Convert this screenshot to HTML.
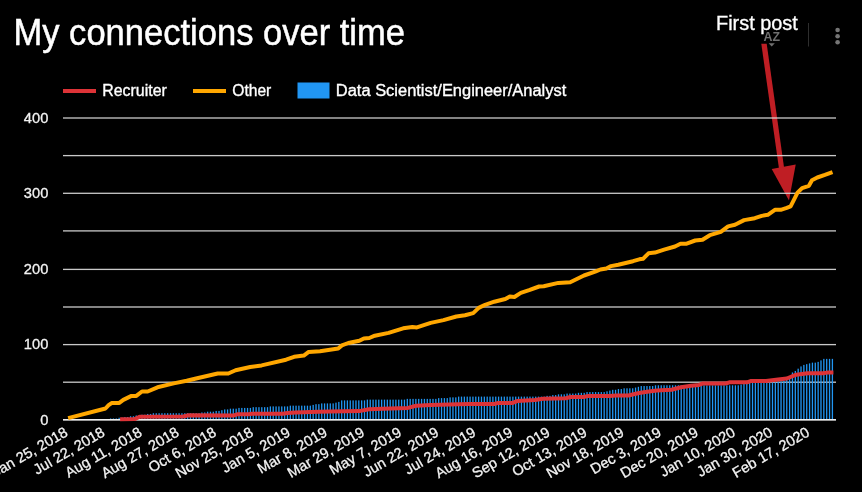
<!DOCTYPE html>
<html><head><meta charset="utf-8"><style>
html,body{margin:0;padding:0;background:#000;width:862px;height:492px;overflow:hidden}
svg{display:block;font-family:"Liberation Sans",sans-serif;will-change:transform}
</style></head><body>
<svg width="862" height="492" viewBox="0 0 862 492">
<text x="13.5" y="44.8" fill="#fff" stroke="#fff" stroke-width="0.5" font-size="36.3" textLength="391.5" lengthAdjust="spacingAndGlyphs">My connections over time</text>
<g font-size="16" fill="#fff" stroke-width="0.35">
<rect x="63" y="89" width="33" height="4" fill="#dd3337"/>
<text x="102.3" y="95.6" textLength="64.5" lengthAdjust="spacingAndGlyphs" stroke="#fff">Recruiter</text>
<rect x="193" y="89" width="33" height="4" fill="#ffa700"/>
<text x="232.3" y="95.6" textLength="39" lengthAdjust="spacingAndGlyphs" stroke="#fff">Other</text>
<rect x="297.5" y="82.5" width="32" height="16" fill="#2196f3"/>
<text x="335.8" y="95.6" textLength="230.5" lengthAdjust="spacingAndGlyphs" stroke="#fff">Data Scientist/Engineer/Analyst</text>
</g>
<!-- arrow -->
<g fill="#bf1e24">
<polygon points="761.3,43.7 766.7,43.7 785.1,175 779.9,175"/>
<polygon points="771.7,169 795.7,164.5 789,200.5"/>
</g>
<g fill="#dadada" fill-opacity="0.92">
<rect x="63" y="381.55" width="773" height="1.3"/><rect x="63" y="343.95" width="773" height="1.3"/><rect x="63" y="306.35" width="773" height="1.3"/><rect x="63" y="268.75" width="773" height="1.3"/><rect x="63" y="230.25" width="773" height="1.3"/><rect x="63" y="192.65" width="773" height="1.3"/><rect x="63" y="154.95" width="773" height="1.3"/><rect x="63" y="117.35" width="773" height="1.3"/>
</g>
<g font-size="14.67" fill="#f2f2f2" stroke="#f2f2f2" stroke-width="0.3">
<text x="48.3" y="424.7" text-anchor="end">0</text><text x="48.3" y="349.3" text-anchor="end">100</text><text x="48.3" y="274.1" text-anchor="end">200</text><text x="48.3" y="198.0" text-anchor="end">300</text><text x="48.3" y="122.7" text-anchor="end">400</text>
</g>
<g fill="#2196f3">
<rect x="109.94" y="418.49" width="1.3" height="1.51"/><rect x="112.80" y="418.49" width="1.3" height="1.51"/><rect x="115.65" y="418.49" width="1.3" height="1.51"/><rect x="118.50" y="417.74" width="1.3" height="2.26"/><rect x="121.36" y="417.74" width="1.3" height="2.26"/><rect x="124.21" y="416.98" width="1.3" height="3.02"/><rect x="127.06" y="416.98" width="1.3" height="3.02"/><rect x="129.92" y="416.23" width="1.3" height="3.77"/><rect x="132.77" y="416.23" width="1.3" height="3.77"/><rect x="135.62" y="415.47" width="1.3" height="4.53"/><rect x="138.47" y="415.47" width="1.3" height="4.53"/><rect x="141.33" y="414.72" width="1.3" height="5.28"/><rect x="144.18" y="414.72" width="1.3" height="5.28"/><rect x="147.03" y="413.96" width="1.3" height="6.04"/><rect x="149.89" y="413.96" width="1.3" height="6.04"/><rect x="152.74" y="413.21" width="1.3" height="6.79"/><rect x="155.59" y="413.21" width="1.3" height="6.79"/><rect x="158.45" y="413.21" width="1.3" height="6.79"/><rect x="161.30" y="413.21" width="1.3" height="6.79"/><rect x="164.15" y="413.21" width="1.3" height="6.79"/><rect x="167.00" y="413.21" width="1.3" height="6.79"/><rect x="169.86" y="413.21" width="1.3" height="6.79"/><rect x="172.71" y="413.21" width="1.3" height="6.79"/><rect x="175.56" y="413.21" width="1.3" height="6.79"/><rect x="178.42" y="413.21" width="1.3" height="6.79"/><rect x="181.27" y="413.21" width="1.3" height="6.79"/><rect x="184.12" y="413.21" width="1.3" height="6.79"/><rect x="186.98" y="413.21" width="1.3" height="6.79"/><rect x="189.83" y="413.21" width="1.3" height="6.79"/><rect x="192.68" y="413.21" width="1.3" height="6.79"/><rect x="195.53" y="413.21" width="1.3" height="6.79"/><rect x="198.39" y="413.21" width="1.3" height="6.79"/><rect x="201.24" y="412.45" width="1.3" height="7.55"/><rect x="204.09" y="412.45" width="1.3" height="7.55"/><rect x="206.95" y="411.70" width="1.3" height="8.30"/><rect x="209.80" y="411.70" width="1.3" height="8.30"/><rect x="212.65" y="411.70" width="1.3" height="8.30"/><rect x="215.51" y="410.94" width="1.3" height="9.06"/><rect x="218.36" y="410.94" width="1.3" height="9.06"/><rect x="221.21" y="410.19" width="1.3" height="9.81"/><rect x="224.06" y="409.43" width="1.3" height="10.57"/><rect x="226.92" y="409.43" width="1.3" height="10.57"/><rect x="229.77" y="408.68" width="1.3" height="11.32"/><rect x="232.62" y="408.68" width="1.3" height="11.32"/><rect x="235.48" y="408.68" width="1.3" height="11.32"/><rect x="238.33" y="407.92" width="1.3" height="12.08"/><rect x="241.18" y="407.92" width="1.3" height="12.08"/><rect x="244.04" y="407.92" width="1.3" height="12.08"/><rect x="246.89" y="407.92" width="1.3" height="12.08"/><rect x="249.74" y="407.92" width="1.3" height="12.08"/><rect x="252.59" y="407.17" width="1.3" height="12.83"/><rect x="255.45" y="407.17" width="1.3" height="12.83"/><rect x="258.30" y="407.17" width="1.3" height="12.83"/><rect x="261.15" y="407.17" width="1.3" height="12.83"/><rect x="264.01" y="407.17" width="1.3" height="12.83"/><rect x="266.86" y="407.17" width="1.3" height="12.83"/><rect x="269.71" y="406.41" width="1.3" height="13.59"/><rect x="272.56" y="406.41" width="1.3" height="13.59"/><rect x="275.42" y="406.41" width="1.3" height="13.59"/><rect x="278.27" y="406.41" width="1.3" height="13.59"/><rect x="281.12" y="406.41" width="1.3" height="13.59"/><rect x="283.98" y="406.41" width="1.3" height="13.59"/><rect x="286.83" y="406.41" width="1.3" height="13.59"/><rect x="289.68" y="405.66" width="1.3" height="14.34"/><rect x="292.54" y="405.66" width="1.3" height="14.34"/><rect x="295.39" y="405.66" width="1.3" height="14.34"/><rect x="298.24" y="405.66" width="1.3" height="14.34"/><rect x="301.09" y="405.66" width="1.3" height="14.34"/><rect x="303.95" y="405.66" width="1.3" height="14.34"/><rect x="306.80" y="405.66" width="1.3" height="14.34"/><rect x="309.65" y="405.66" width="1.3" height="14.34"/><rect x="312.51" y="404.90" width="1.3" height="15.10"/><rect x="315.36" y="404.15" width="1.3" height="15.85"/><rect x="318.21" y="404.15" width="1.3" height="15.85"/><rect x="321.07" y="403.40" width="1.3" height="16.60"/><rect x="323.92" y="403.40" width="1.3" height="16.60"/><rect x="326.77" y="403.40" width="1.3" height="16.60"/><rect x="329.62" y="403.40" width="1.3" height="16.60"/><rect x="332.48" y="403.40" width="1.3" height="16.60"/><rect x="335.33" y="402.64" width="1.3" height="17.36"/><rect x="338.18" y="401.89" width="1.3" height="18.11"/><rect x="341.04" y="400.38" width="1.3" height="19.62"/><rect x="343.89" y="400.38" width="1.3" height="19.62"/><rect x="346.74" y="400.38" width="1.3" height="19.62"/><rect x="349.60" y="400.38" width="1.3" height="19.62"/><rect x="352.45" y="400.38" width="1.3" height="19.62"/><rect x="355.30" y="400.38" width="1.3" height="19.62"/><rect x="358.15" y="400.38" width="1.3" height="19.62"/><rect x="361.01" y="400.38" width="1.3" height="19.62"/><rect x="363.86" y="400.38" width="1.3" height="19.62"/><rect x="366.71" y="399.62" width="1.3" height="20.38"/><rect x="369.57" y="399.62" width="1.3" height="20.38"/><rect x="372.42" y="399.62" width="1.3" height="20.38"/><rect x="375.27" y="399.62" width="1.3" height="20.38"/><rect x="378.13" y="399.62" width="1.3" height="20.38"/><rect x="380.98" y="399.62" width="1.3" height="20.38"/><rect x="383.83" y="399.62" width="1.3" height="20.38"/><rect x="386.68" y="399.62" width="1.3" height="20.38"/><rect x="389.54" y="399.62" width="1.3" height="20.38"/><rect x="392.39" y="399.62" width="1.3" height="20.38"/><rect x="395.24" y="399.62" width="1.3" height="20.38"/><rect x="398.10" y="399.62" width="1.3" height="20.38"/><rect x="400.95" y="399.62" width="1.3" height="20.38"/><rect x="403.80" y="399.62" width="1.3" height="20.38"/><rect x="406.66" y="398.87" width="1.3" height="21.13"/><rect x="409.51" y="398.87" width="1.3" height="21.13"/><rect x="412.36" y="398.87" width="1.3" height="21.13"/><rect x="415.21" y="398.87" width="1.3" height="21.13"/><rect x="418.07" y="398.87" width="1.3" height="21.13"/><rect x="420.92" y="398.87" width="1.3" height="21.13"/><rect x="423.77" y="398.87" width="1.3" height="21.13"/><rect x="426.63" y="398.87" width="1.3" height="21.13"/><rect x="429.48" y="398.87" width="1.3" height="21.13"/><rect x="432.33" y="398.87" width="1.3" height="21.13"/><rect x="435.19" y="398.87" width="1.3" height="21.13"/><rect x="438.04" y="398.11" width="1.3" height="21.89"/><rect x="440.89" y="398.11" width="1.3" height="21.89"/><rect x="443.74" y="398.11" width="1.3" height="21.89"/><rect x="446.60" y="398.11" width="1.3" height="21.89"/><rect x="449.45" y="397.36" width="1.3" height="22.64"/><rect x="452.30" y="397.36" width="1.3" height="22.64"/><rect x="455.16" y="397.36" width="1.3" height="22.64"/><rect x="458.01" y="396.60" width="1.3" height="23.40"/><rect x="460.86" y="396.60" width="1.3" height="23.40"/><rect x="463.71" y="396.60" width="1.3" height="23.40"/><rect x="466.57" y="396.60" width="1.3" height="23.40"/><rect x="469.42" y="396.60" width="1.3" height="23.40"/><rect x="472.27" y="396.60" width="1.3" height="23.40"/><rect x="475.13" y="396.60" width="1.3" height="23.40"/><rect x="477.98" y="396.60" width="1.3" height="23.40"/><rect x="480.83" y="396.60" width="1.3" height="23.40"/><rect x="483.69" y="396.60" width="1.3" height="23.40"/><rect x="486.54" y="396.60" width="1.3" height="23.40"/><rect x="489.39" y="396.60" width="1.3" height="23.40"/><rect x="492.24" y="396.60" width="1.3" height="23.40"/><rect x="495.10" y="396.60" width="1.3" height="23.40"/><rect x="497.95" y="396.60" width="1.3" height="23.40"/><rect x="500.80" y="396.60" width="1.3" height="23.40"/><rect x="503.66" y="396.60" width="1.3" height="23.40"/><rect x="506.51" y="396.60" width="1.3" height="23.40"/><rect x="509.36" y="396.60" width="1.3" height="23.40"/><rect x="512.22" y="396.60" width="1.3" height="23.40"/><rect x="515.07" y="396.60" width="1.3" height="23.40"/><rect x="517.92" y="396.60" width="1.3" height="23.40"/><rect x="520.77" y="396.60" width="1.3" height="23.40"/><rect x="523.63" y="396.60" width="1.3" height="23.40"/><rect x="526.48" y="396.60" width="1.3" height="23.40"/><rect x="529.33" y="396.60" width="1.3" height="23.40"/><rect x="532.19" y="396.60" width="1.3" height="23.40"/><rect x="535.04" y="396.60" width="1.3" height="23.40"/><rect x="537.89" y="396.60" width="1.3" height="23.40"/><rect x="540.75" y="396.60" width="1.3" height="23.40"/><rect x="543.60" y="396.60" width="1.3" height="23.40"/><rect x="546.45" y="395.85" width="1.3" height="24.15"/><rect x="549.30" y="395.85" width="1.3" height="24.15"/><rect x="552.16" y="395.09" width="1.3" height="24.91"/><rect x="555.01" y="395.09" width="1.3" height="24.91"/><rect x="557.86" y="394.34" width="1.3" height="25.66"/><rect x="560.72" y="394.34" width="1.3" height="25.66"/><rect x="563.57" y="394.34" width="1.3" height="25.66"/><rect x="566.42" y="393.58" width="1.3" height="26.42"/><rect x="569.28" y="393.58" width="1.3" height="26.42"/><rect x="572.13" y="393.58" width="1.3" height="26.42"/><rect x="574.98" y="393.58" width="1.3" height="26.42"/><rect x="577.83" y="392.83" width="1.3" height="27.17"/><rect x="580.69" y="392.83" width="1.3" height="27.17"/><rect x="583.54" y="392.83" width="1.3" height="27.17"/><rect x="586.39" y="392.07" width="1.3" height="27.93"/><rect x="589.25" y="392.07" width="1.3" height="27.93"/><rect x="592.10" y="392.07" width="1.3" height="27.93"/><rect x="594.95" y="392.07" width="1.3" height="27.93"/><rect x="597.81" y="392.07" width="1.3" height="27.93"/><rect x="600.66" y="392.07" width="1.3" height="27.93"/><rect x="603.51" y="392.07" width="1.3" height="27.93"/><rect x="606.36" y="391.32" width="1.3" height="28.68"/><rect x="609.22" y="390.56" width="1.3" height="29.44"/><rect x="612.07" y="389.81" width="1.3" height="30.19"/><rect x="614.92" y="389.81" width="1.3" height="30.19"/><rect x="617.78" y="389.06" width="1.3" height="30.94"/><rect x="620.63" y="389.06" width="1.3" height="30.94"/><rect x="623.48" y="388.30" width="1.3" height="31.70"/><rect x="626.34" y="388.30" width="1.3" height="31.70"/><rect x="629.19" y="388.30" width="1.3" height="31.70"/><rect x="632.04" y="388.30" width="1.3" height="31.70"/><rect x="634.89" y="387.55" width="1.3" height="32.45"/><rect x="637.75" y="386.79" width="1.3" height="33.21"/><rect x="640.60" y="386.04" width="1.3" height="33.96"/><rect x="643.45" y="386.04" width="1.3" height="33.96"/><rect x="646.31" y="386.04" width="1.3" height="33.96"/><rect x="649.16" y="386.04" width="1.3" height="33.96"/><rect x="652.01" y="386.04" width="1.3" height="33.96"/><rect x="654.86" y="385.28" width="1.3" height="34.72"/><rect x="657.72" y="385.28" width="1.3" height="34.72"/><rect x="660.57" y="385.28" width="1.3" height="34.72"/><rect x="663.42" y="385.28" width="1.3" height="34.72"/><rect x="666.28" y="385.28" width="1.3" height="34.72"/><rect x="669.13" y="385.28" width="1.3" height="34.72"/><rect x="671.98" y="385.28" width="1.3" height="34.72"/><rect x="674.84" y="385.28" width="1.3" height="34.72"/><rect x="677.69" y="385.28" width="1.3" height="34.72"/><rect x="680.54" y="385.28" width="1.3" height="34.72"/><rect x="683.39" y="385.28" width="1.3" height="34.72"/><rect x="686.25" y="385.28" width="1.3" height="34.72"/><rect x="689.10" y="385.28" width="1.3" height="34.72"/><rect x="691.95" y="385.28" width="1.3" height="34.72"/><rect x="694.81" y="385.28" width="1.3" height="34.72"/><rect x="697.66" y="385.28" width="1.3" height="34.72"/><rect x="700.51" y="385.28" width="1.3" height="34.72"/><rect x="703.37" y="385.28" width="1.3" height="34.72"/><rect x="706.22" y="385.28" width="1.3" height="34.72"/><rect x="709.07" y="385.28" width="1.3" height="34.72"/><rect x="711.92" y="385.28" width="1.3" height="34.72"/><rect x="714.78" y="385.28" width="1.3" height="34.72"/><rect x="717.63" y="385.28" width="1.3" height="34.72"/><rect x="720.48" y="385.28" width="1.3" height="34.72"/><rect x="723.34" y="385.28" width="1.3" height="34.72"/><rect x="726.19" y="385.28" width="1.3" height="34.72"/><rect x="729.04" y="385.28" width="1.3" height="34.72"/><rect x="731.90" y="385.28" width="1.3" height="34.72"/><rect x="734.75" y="385.28" width="1.3" height="34.72"/><rect x="737.60" y="385.28" width="1.3" height="34.72"/><rect x="740.45" y="384.53" width="1.3" height="35.47"/><rect x="743.31" y="383.77" width="1.3" height="36.23"/><rect x="746.16" y="383.02" width="1.3" height="36.98"/><rect x="749.01" y="383.02" width="1.3" height="36.98"/><rect x="751.87" y="383.02" width="1.3" height="36.98"/><rect x="754.72" y="383.02" width="1.3" height="36.98"/><rect x="757.57" y="382.26" width="1.3" height="37.74"/><rect x="760.43" y="382.26" width="1.3" height="37.74"/><rect x="763.28" y="382.26" width="1.3" height="37.74"/><rect x="766.13" y="382.26" width="1.3" height="37.74"/><rect x="768.98" y="382.26" width="1.3" height="37.74"/><rect x="771.84" y="382.26" width="1.3" height="37.74"/><rect x="774.69" y="382.26" width="1.3" height="37.74"/><rect x="777.54" y="381.51" width="1.3" height="38.49"/><rect x="780.40" y="381.51" width="1.3" height="38.49"/><rect x="783.25" y="380.75" width="1.3" height="39.25"/><rect x="786.10" y="380.00" width="1.3" height="40.00"/><rect x="788.96" y="376.22" width="1.3" height="43.78"/><rect x="791.81" y="372.45" width="1.3" height="47.55"/><rect x="794.66" y="370.94" width="1.3" height="49.06"/><rect x="797.51" y="368.68" width="1.3" height="51.32"/><rect x="800.37" y="366.41" width="1.3" height="53.59"/><rect x="803.22" y="364.90" width="1.3" height="55.10"/><rect x="806.07" y="364.15" width="1.3" height="55.85"/><rect x="808.93" y="363.39" width="1.3" height="56.61"/><rect x="811.78" y="362.64" width="1.3" height="57.36"/><rect x="814.63" y="362.64" width="1.3" height="57.36"/><rect x="817.49" y="361.88" width="1.3" height="58.12"/><rect x="820.34" y="360.37" width="1.3" height="59.63"/><rect x="823.19" y="358.87" width="1.3" height="61.13"/><rect x="826.04" y="358.87" width="1.3" height="61.13"/><rect x="828.90" y="358.87" width="1.3" height="61.13"/><rect x="831.75" y="358.87" width="1.3" height="61.13"/>
</g>
<rect x="63" y="419" width="773" height="1" fill="#eeeeee"/><rect x="63" y="420" width="773" height="1" fill="#9a9a9a"/>
<path d="M120.1,419.3 L134.7,419.1 L139.6,416.8 L183.4,416.5 L188.3,415.3 L234.0,415.4 L237.2,414.3 L248.6,414.3 L251.8,413.8 L282.7,413.8 L287.6,413.0 L295.7,412.5 L318.4,411.7 L330.0,411.6 L359.2,411.1 L369.0,409.2 L382.0,408.7 L408.0,407.9 L416.1,405.7 L430.7,405.1 L458.3,404.3 L469.7,404.1 L494.2,404.0 L497.5,403.1 L512.1,403.1 L517.0,401.1 L534.8,400.0 L543.0,398.7 L565.7,398.3 L570.6,397.0 L583.6,397.0 L588.4,395.9 L609.7,396.1 L616.2,395.4 L628.4,395.5 L639.0,393.0 L647.1,391.7 L656.8,390.5 L671.5,389.7 L681.2,387.3 L691.0,385.7 L699.1,384.9 L702.3,383.6 L725.1,383.6 L729.9,382.3 L747.1,382.3 L750.5,381.1 L766.1,381.1 L778.2,379.4 L786.8,378.5 L796.3,374.7 L807.5,373.3 L823.1,373.3 L828.3,372.4 L833.4,372.4" fill="none" stroke="#dd3337" stroke-width="4" stroke-linejoin="round"/>
<path d="M68.1,418.1 L105.5,408.5 L108.6,405.2 L111.6,403.1 L119.3,402.9 L123.3,399.9 L131.5,395.9 L136.3,395.9 L142.0,391.5 L147.7,391.5 L157.5,387.3 L173.7,383.4 L186.7,380.8 L195.0,378.8 L217.7,373.5 L228.3,373.5 L235.6,370.2 L250.2,367.0 L261.6,365.4 L286.0,359.7 L294.1,356.8 L303.8,355.6 L308.7,351.9 L320.0,351.2 L330.0,349.8 L338.2,348.5 L341.9,345.4 L348.3,343.0 L359.3,340.8 L363.9,338.4 L369.3,338.0 L374.8,335.7 L388.6,332.9 L403.2,328.3 L412.4,327.1 L416.9,327.4 L430.7,322.9 L443.5,320.1 L456.3,316.5 L465.0,315.3 L473.2,313.1 L478.7,307.9 L485.1,304.8 L494.3,301.7 L505.3,299.0 L509.8,296.6 L514.4,297.0 L520.8,292.9 L529.1,290.2 L539.1,286.5 L543.7,286.2 L558.3,282.9 L570.2,282.3 L584.0,275.5 L595.9,271.3 L600.4,269.5 L606.4,268.5 L611.0,266.1 L618.3,264.8 L633.0,261.2 L639.3,259.3 L643.0,258.8 L648.5,253.3 L654.9,252.6 L664.1,249.6 L675.0,246.5 L680.5,243.8 L686.0,243.8 L695.2,240.5 L702.5,239.7 L709.8,235.2 L720.8,231.9 L728.1,226.4 L735.0,224.7 L744.1,220.1 L754.8,218.2 L761.7,215.9 L767.8,214.8 L774.9,209.8 L780.7,209.8 L786.8,207.9 L790.6,206.4 L794.4,198.8 L797.5,192.7 L802.1,188.1 L808.9,185.8 L812.0,180.2 L817.3,177.5 L824.9,174.9 L832.5,172.1" fill="none" stroke="#ffa700" stroke-width="4" stroke-linejoin="round"/>
<g font-size="14.67" fill="#f2f2f2" stroke="#f2f2f2" stroke-width="0.3" opacity="0.999">
<text x="68.8" y="435.2" transform="rotate(-30.0 68.8 435.2)" text-anchor="end" textLength="84.3" lengthAdjust="spacingAndGlyphs">Jan 25, 2018</text><text x="105.9" y="435.2" transform="rotate(-30.0 105.9 435.2)" text-anchor="end" textLength="79.5" lengthAdjust="spacingAndGlyphs">Jul 22, 2018</text><text x="143.0" y="435.2" transform="rotate(-30.0 143.0 435.2)" text-anchor="end" textLength="85.7" lengthAdjust="spacingAndGlyphs">Aug 11, 2018</text><text x="180.1" y="435.2" transform="rotate(-30.0 180.1 435.2)" text-anchor="end" textLength="86.8" lengthAdjust="spacingAndGlyphs">Aug 27, 2018</text><text x="217.2" y="435.2" transform="rotate(-30.0 217.2 435.2)" text-anchor="end" textLength="75.4" lengthAdjust="spacingAndGlyphs">Oct 6, 2018</text><text x="254.2" y="435.2" transform="rotate(-30.0 254.2 435.2)" text-anchor="end" textLength="86.8" lengthAdjust="spacingAndGlyphs">Nov 25, 2018</text><text x="291.3" y="435.2" transform="rotate(-30.0 291.3 435.2)" text-anchor="end" textLength="76.2" lengthAdjust="spacingAndGlyphs">Jan 5, 2019</text><text x="328.4" y="435.2" transform="rotate(-30.0 328.4 435.2)" text-anchor="end" textLength="77.8" lengthAdjust="spacingAndGlyphs">Mar 8, 2019</text><text x="365.5" y="435.2" transform="rotate(-30.0 365.5 435.2)" text-anchor="end" textLength="85.9" lengthAdjust="spacingAndGlyphs">Mar 29, 2019</text><text x="402.6" y="435.2" transform="rotate(-30.0 402.6 435.2)" text-anchor="end" textLength="80.3" lengthAdjust="spacingAndGlyphs">May 7, 2019</text><text x="439.7" y="435.2" transform="rotate(-30.0 439.7 435.2)" text-anchor="end" textLength="84.3" lengthAdjust="spacingAndGlyphs">Jun 22, 2019</text><text x="476.8" y="435.2" transform="rotate(-30.0 476.8 435.2)" text-anchor="end" textLength="79.5" lengthAdjust="spacingAndGlyphs">Jul 24, 2019</text><text x="513.9" y="435.2" transform="rotate(-30.0 513.9 435.2)" text-anchor="end" textLength="86.8" lengthAdjust="spacingAndGlyphs">Aug 16, 2019</text><text x="551.0" y="435.2" transform="rotate(-30.0 551.0 435.2)" text-anchor="end" textLength="86.8" lengthAdjust="spacingAndGlyphs">Sep 12, 2019</text><text x="588.0" y="435.2" transform="rotate(-30.0 588.0 435.2)" text-anchor="end" textLength="83.5" lengthAdjust="spacingAndGlyphs">Oct 13, 2019</text><text x="625.1" y="435.2" transform="rotate(-30.0 625.1 435.2)" text-anchor="end" textLength="86.8" lengthAdjust="spacingAndGlyphs">Nov 18, 2019</text><text x="662.2" y="435.2" transform="rotate(-30.0 662.2 435.2)" text-anchor="end" textLength="78.7" lengthAdjust="spacingAndGlyphs">Dec 3, 2019</text><text x="699.3" y="435.2" transform="rotate(-30.0 699.3 435.2)" text-anchor="end" textLength="86.8" lengthAdjust="spacingAndGlyphs">Dec 20, 2019</text><text x="736.4" y="435.2" transform="rotate(-30.0 736.4 435.2)" text-anchor="end" textLength="84.3" lengthAdjust="spacingAndGlyphs">Jan 10, 2020</text><text x="773.5" y="435.2" transform="rotate(-30.0 773.5 435.2)" text-anchor="end" textLength="84.3" lengthAdjust="spacingAndGlyphs">Jan 30, 2020</text><text x="810.6" y="435.2" transform="rotate(-30.0 810.6 435.2)" text-anchor="end" textLength="86.0" lengthAdjust="spacingAndGlyphs">Feb 17, 2020</text>
</g>
<text x="716" y="29.8" fill="#fff" stroke="#fff" stroke-width="0.3" font-size="19.5" textLength="81.8" lengthAdjust="spacingAndGlyphs">First post</text>
<text x="763.5" y="40.8" fill="#6f6f6f" font-size="13.6" font-weight="bold" textLength="16.5" lengthAdjust="spacingAndGlyphs">AZ</text>
<polygon points="768.6,43.2 774.8,43.2 771.7,46.6" fill="#6f6f6f"/>
<rect x="808" y="23" width="1" height="23.5" fill="#2e2e2e"/>
<g fill="#757575"><circle cx="837.6" cy="30" r="2.3"/><circle cx="837.6" cy="36.2" r="2.3"/><circle cx="837.6" cy="42.3" r="2.3"/></g>
</svg>
</body></html>
